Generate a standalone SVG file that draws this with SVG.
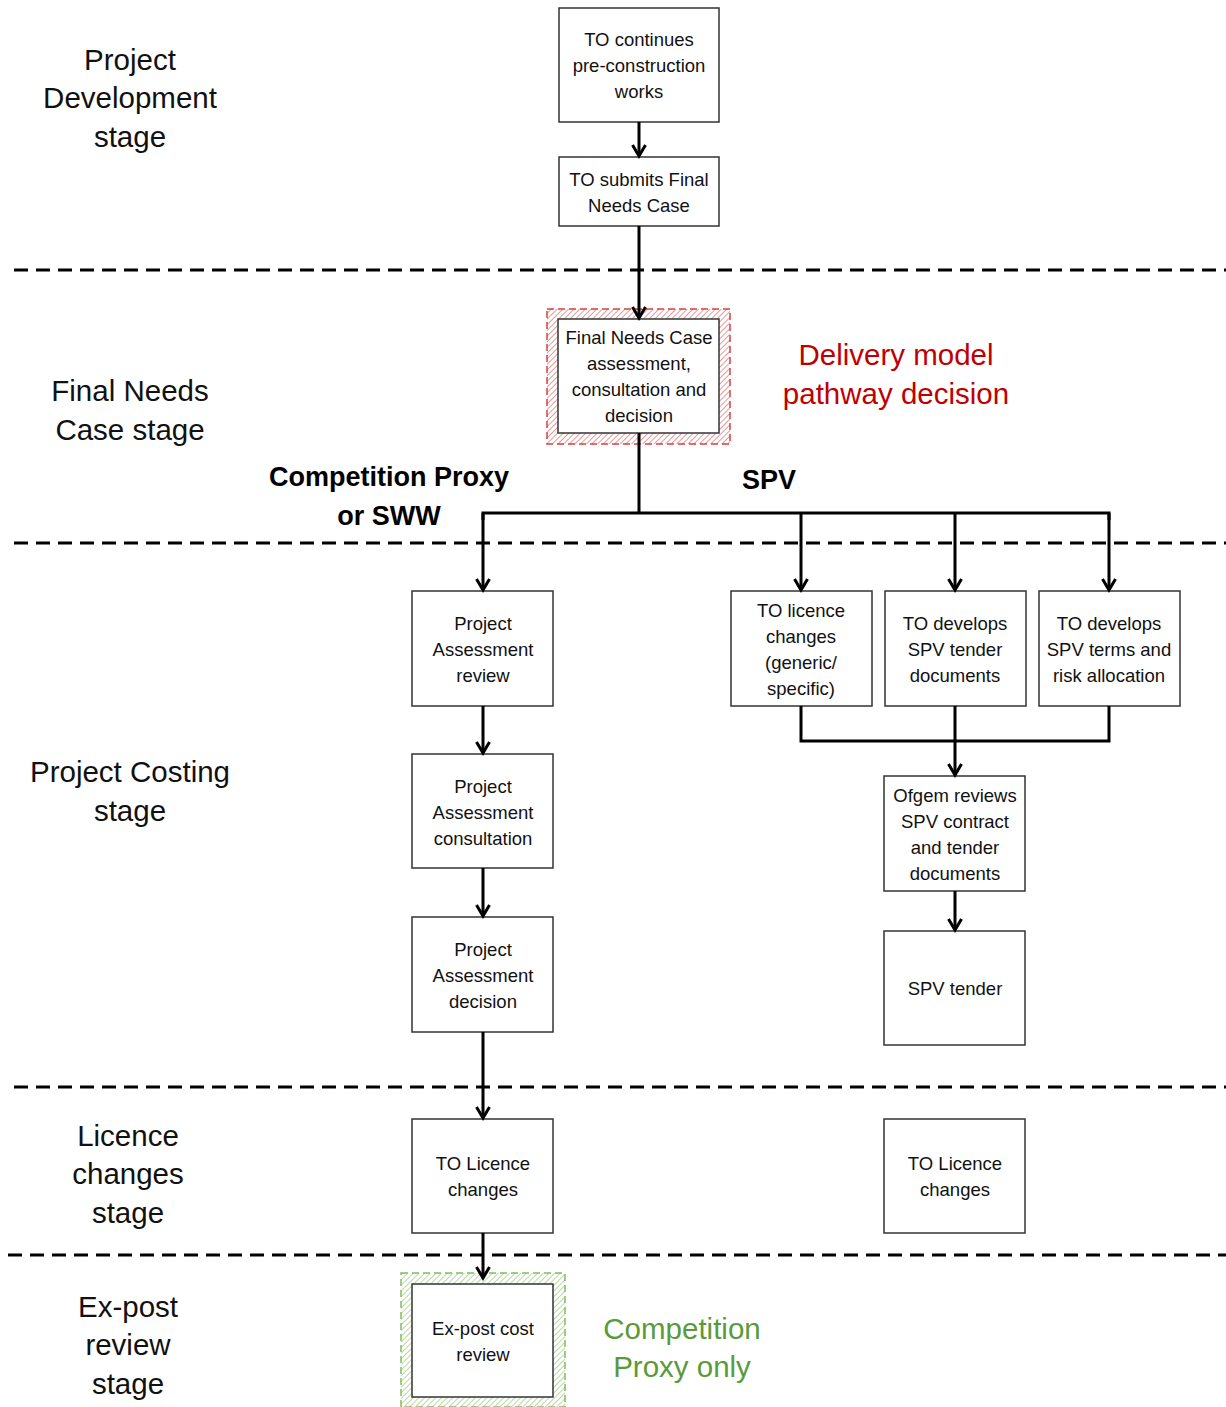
<svg xmlns="http://www.w3.org/2000/svg" width="1226" height="1407" viewBox="0 0 1226 1407">
<style>
.box{fill:#fff;stroke:#333;stroke-width:1.5}
.bt{font-family:"Liberation Sans",Arial,sans-serif;font-size:18.5px;fill:#111;text-anchor:middle}
.st{font-family:"Liberation Sans",Arial,sans-serif;font-size:29.5px;fill:#111;text-anchor:middle}
.bold{font-family:"Liberation Sans",Arial,sans-serif;font-size:27px;font-weight:bold;fill:#000;text-anchor:middle}
.red{font-family:"Liberation Sans",Arial,sans-serif;font-size:29.5px;fill:#c00000;text-anchor:middle}
.green{font-family:"Liberation Sans",Arial,sans-serif;font-size:29.5px;fill:#5a9a3a;text-anchor:middle}
.dash{stroke:#000;stroke-width:3;stroke-dasharray:14 8;fill:none}
.con{stroke:#000;stroke-width:3;fill:none}
</style>
<defs>
<marker id="arr" viewBox="0 0 16 16" refX="13" refY="8" markerWidth="16" markerHeight="16" markerUnits="userSpaceOnUse" orient="auto">
<path d="M2,1.5 L13,8 L2,14.5" fill="none" stroke="#000" stroke-width="3"/>
</marker>
<pattern id="hr" width="4" height="4" patternUnits="userSpaceOnUse" patternTransform="rotate(45)">
<rect width="4" height="4" fill="#fff"/>
<line x1="0" y1="0" x2="0" y2="4" stroke="#e08080" stroke-width="1.6"/>
</pattern>
<pattern id="hg" width="4" height="4" patternUnits="userSpaceOnUse" patternTransform="rotate(45)">
<rect width="4" height="4" fill="#fff"/>
<line x1="0" y1="0" x2="0" y2="4" stroke="#a8d090" stroke-width="1.6"/>
</pattern>
</defs>
<rect width="1226" height="1407" fill="#fff"/>

<g id="separators">
<line class="dash" x1="14" y1="270" x2="1226" y2="270"/>
<line class="dash" x1="14" y1="543" x2="1226" y2="543"/>
<line class="dash" x1="14" y1="1087" x2="1226" y2="1087"/>
<line class="dash" x1="8" y1="1255" x2="1226" y2="1255"/>
</g>

<g id="stage-labels">
<text class="st" x="130" y="70">Project</text>
<text class="st" x="130" y="108">Development</text>
<text class="st" x="130" y="147">stage</text>
<text class="st" x="130" y="401">Final Needs</text>
<text class="st" x="130" y="440">Case stage</text>
<text class="st" x="130" y="782">Project Costing</text>
<text class="st" x="130" y="821">stage</text>
<text class="st" x="128" y="1146">Licence</text>
<text class="st" x="128" y="1184">changes</text>
<text class="st" x="128" y="1223">stage</text>
<text class="st" x="128" y="1317">Ex-post</text>
<text class="st" x="128" y="1355">review</text>
<text class="st" x="128" y="1394">stage</text>
</g>

<g id="annotations">
<text class="red" x="896" y="365">Delivery model</text>
<text class="red" x="896" y="404">pathway decision</text>
<text class="bold" x="389" y="486">Competition Proxy</text>
<text class="bold" x="389" y="525">or SWW</text>
<text class="bold" x="769" y="489">SPV</text>
<text class="green" x="682" y="1339">Competition</text>
<text class="green" x="682" y="1377">Proxy only</text>
</g>

<g id="n-continues">
<rect class="box" x="559" y="8" width="160" height="114"/>
<text class="bt" x="639" y="46">TO continues</text>
<text class="bt" x="639" y="72">pre-construction</text>
<text class="bt" x="639" y="98">works</text>
</g>
<g id="n-submits">
<rect class="box" x="559" y="157" width="160" height="69"/>
<text class="bt" x="639" y="186">TO submits Final</text>
<text class="bt" x="639" y="212">Needs Case</text>
</g>
<g id="n-fnc">
<rect x="547" y="309" width="183" height="135" fill="url(#hr)" stroke="#d94040" stroke-width="1.5" stroke-dasharray="7 4"/>
<rect class="box" x="558" y="319" width="161" height="114" stroke-width="2"/>
<text class="bt" x="639" y="344">Final Needs Case</text>
<text class="bt" x="639" y="370">assessment,</text>
<text class="bt" x="639" y="396">consultation and</text>
<text class="bt" x="639" y="422">decision</text>
</g>
<g id="n-pa-review">
<rect class="box" x="412" y="591" width="141" height="115"/>
<text class="bt" x="483" y="630">Project</text>
<text class="bt" x="483" y="656">Assessment</text>
<text class="bt" x="483" y="682">review</text>
</g>
<g id="n-pa-consult">
<rect class="box" x="412" y="754" width="141" height="114"/>
<text class="bt" x="483" y="793">Project</text>
<text class="bt" x="483" y="819">Assessment</text>
<text class="bt" x="483" y="845">consultation</text>
</g>
<g id="n-pa-decision">
<rect class="box" x="412" y="917" width="141" height="115"/>
<text class="bt" x="483" y="956">Project</text>
<text class="bt" x="483" y="982">Assessment</text>
<text class="bt" x="483" y="1008">decision</text>
</g>
<g id="n-licence-left">
<rect class="box" x="412" y="1119" width="141" height="114"/>
<text class="bt" x="483" y="1170">TO Licence</text>
<text class="bt" x="483" y="1196">changes</text>
</g>
<g id="n-expost">
<rect x="401" y="1273" width="164" height="134" fill="url(#hg)" stroke="#7fbf5f" stroke-width="1.5" stroke-dasharray="7 4"/>
<rect class="box" x="412" y="1284" width="141" height="113" stroke-width="2"/>
<text class="bt" x="483" y="1335">Ex-post cost</text>
<text class="bt" x="483" y="1361">review</text>
</g>
<g id="n-licence-changes">
<rect class="box" x="731" y="591" width="141" height="115"/>
<text class="bt" x="801" y="617">TO licence</text>
<text class="bt" x="801" y="643">changes</text>
<text class="bt" x="801" y="669">(generic/</text>
<text class="bt" x="801" y="695">specific)</text>
</g>
<g id="n-tender-docs">
<rect class="box" x="885" y="591" width="141" height="115"/>
<text class="bt" x="955" y="630">TO develops</text>
<text class="bt" x="955" y="656">SPV tender</text>
<text class="bt" x="955" y="682">documents</text>
</g>
<g id="n-terms">
<rect class="box" x="1039" y="591" width="141" height="115"/>
<text class="bt" x="1109" y="630">TO develops</text>
<text class="bt" x="1109" y="656">SPV terms and</text>
<text class="bt" x="1109" y="682">risk allocation</text>
</g>
<g id="n-ofgem">
<rect class="box" x="884" y="776" width="141" height="115"/>
<text class="bt" x="955" y="802">Ofgem reviews</text>
<text class="bt" x="955" y="828">SPV contract</text>
<text class="bt" x="955" y="854">and tender</text>
<text class="bt" x="955" y="880">documents</text>
</g>
<g id="n-spv-tender">
<rect class="box" x="884" y="931" width="141" height="114"/>
<text class="bt" x="955" y="995">SPV tender</text>
</g>
<g id="n-licence-right">
<rect class="box" x="884" y="1119" width="141" height="114"/>
<text class="bt" x="955" y="1170">TO Licence</text>
<text class="bt" x="955" y="1196">changes</text>
</g>

<g id="connectors">
<line class="con" x1="639" y1="122" x2="639" y2="156" marker-end="url(#arr)"/>
<line class="con" x1="639" y1="226" x2="639" y2="318" marker-end="url(#arr)"/>
<polyline class="con" points="639,433 639,513"/>
<polyline class="con" points="483,520 483,513 1109,513 1109,520"/>
<line class="con" x1="483" y1="513" x2="483" y2="590" marker-end="url(#arr)"/>
<line class="con" x1="801" y1="513" x2="801" y2="590" marker-end="url(#arr)"/>
<line class="con" x1="955" y1="513" x2="955" y2="590" marker-end="url(#arr)"/>
<line class="con" x1="1109" y1="513" x2="1109" y2="590" marker-end="url(#arr)"/>
<line class="con" x1="483" y1="706" x2="483" y2="753" marker-end="url(#arr)"/>
<line class="con" x1="483" y1="868" x2="483" y2="916" marker-end="url(#arr)"/>
<line class="con" x1="483" y1="1032" x2="483" y2="1118" marker-end="url(#arr)"/>
<line class="con" x1="483" y1="1233" x2="483" y2="1278" marker-end="url(#arr)"/>
<polyline class="con" points="801,706 801,741 1109,741 1109,706"/>
<line class="con" x1="955" y1="706" x2="955" y2="775" marker-end="url(#arr)"/>
<line class="con" x1="955" y1="891" x2="955" y2="930" marker-end="url(#arr)"/>
</g>
</svg>
